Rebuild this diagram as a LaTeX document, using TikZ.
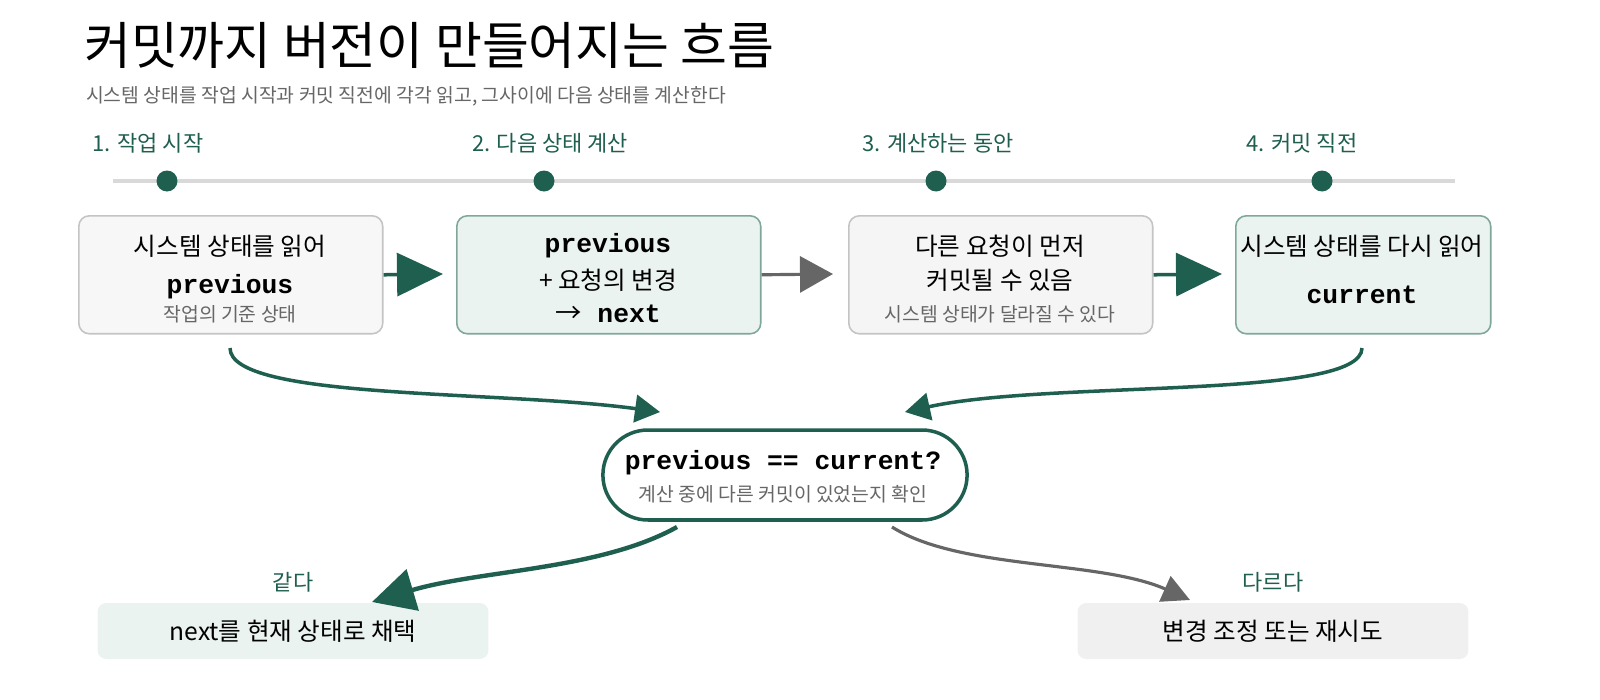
\documentclass[tikz,border=0pt]{standalone}
\usepackage{fontspec}
\setmainfont{Noto Sans CJK KR}
\setmonofont{Liberation Mono}
\usetikzlibrary{arrows.meta,shapes.misc}
\definecolor{gr}{HTML}{1F5F4F}
\definecolor{gbox}{HTML}{EBF3F0}
\definecolor{gstroke}{HTML}{7FA89A}
\definecolor{lbox}{HTML}{F5F5F5}
\definecolor{lstroke}{HTML}{C4C4C4}
\definecolor{dg}{HTML}{666666}
\begin{document}
\begin{tikzpicture}[x=0.02cm,y=-0.02cm,
  box/.style={draw,rounded corners=6pt,line width=0.9pt,minimum width=6.08cm,minimum height=2.36cm,anchor=north west,align=center,font=\fontsize{14pt}{19pt}\selectfont},
  steplbl/.style={text=gr,font=\fontsize{12.5pt}{14pt}\selectfont},
  dot/.style={circle,fill=gr,minimum size=0.42cm,inner sep=0},
  big/.style={-{Triangle[length=0.92cm,width=0.86cm]},line width=2pt},
  cur/.style={-{Triangle[length=0.5cm,width=0.55cm]},line width=2pt},
  small/.style={font=\fontsize{11pt}{13pt}\selectfont,text=dg},
  mono/.style={font=\ttfamily\bfseries\fontsize{15pt}{18pt}\selectfont}]
\useasboundingbox (0,0) rectangle (1600,700);
\node[anchor=west,font=\fontsize{29pt}{34pt}\selectfont] (title) at (78,45) {커밋까지 버전이 만들어지는 흐름};
\node[anchor=west,font=\fontsize{11pt}{13pt}\selectfont,text=dg] (sub) at (80,96) {시스템 상태를 작업 시작과 커밋 직전에 각각 읽고, 그사이에 다음 상태를 계산한다};
\node[steplbl] (s1) at (148,143) {1. 작업 시작};
\node[steplbl] (s2) at (550,143) {2. 다음 상태 계산};
\node[steplbl] (s3) at (938,143) {3. 계산하는 동안};
\node[steplbl] (s4) at (1302,143) {4. 커밋 직전};
\coordinate (la) at (113,181); \coordinate (lb) at (1455,181);
\draw[line width=2.5pt,black!15] (la) -- (lb);
\node[dot] (d1) at (167,181) {};
\node[dot] (d2) at (544,181) {};
\node[dot] (d3) at (936,181) {};
\node[dot] (d4) at (1322,181) {};
\node[box,draw=lstroke,fill=black!3] (b1) at (78,215) {};
\node at (230,246) {\fontsize{14pt}{16pt}\selectfont 시스템 상태를 읽어};
\node[mono] at (230,287) {previous};
\node[small] at (230,314) {작업의 기준 상태};
\node[box,draw=gstroke,fill=gbox] (b2) at (456,215) {};
\node[mono] at (608,246) {previous};
\node[font=\fontsize{14pt}{16pt}\selectfont] at (608,280) {+ 요청의 변경};
\node[mono] at (608,314) {{\rmfamily\mdseries →} next};
\node[box,draw=lstroke,fill=lbox] (b3) at (848,215) {};
\node[font=\fontsize{14pt}{16pt}\selectfont] at (1000,246) {다른 요청이 먼저};
\node[font=\fontsize{14pt}{16pt}\selectfont] at (1000,280) {커밋될 수 있음};
\node[small] at (1000,314) {시스템 상태가 달라질 수 있다};
\node[box,draw=gstroke,fill=gbox,minimum width=5.1cm] (b4) at (1235,215) {};
\node[font=\fontsize{14pt}{16pt}\selectfont] at (1362,246) {시스템 상태를 다시 읽어};
\node[mono] at (1362,295) {current};
\draw[big,gr] (b1.east) -- (443,274);
\draw[big,dg,line width=1.8pt,-{Triangle[length=0.66cm,width=0.72cm]}] (b2.east) -- (833,274);
\draw[big,gr] (b3.east) -- (1222,274);
\node[draw=gr,line width=2pt,fill=white,rounded rectangle,minimum width=7.52cm,minimum height=1.8cm] (dec) at (785,475) {};
\node[mono] at (783,463) {previous == current?};
\node[small] at (783,494) {계산 중에 다른 커밋이 있었는지 확인};
\draw[cur,gr] (230,348) .. controls (230,400) and (500,390) .. (660,412);
\draw[cur,gr] (1362,348) .. controls (1362,400) and (1050,380) .. (905,412);
\node[fill=gbox,rounded corners=5pt,minimum width=7.82cm,minimum height=1.12cm] (ok) at (293,631) {\fontsize{14pt}{16pt}\selectfont next를 현재 상태로 채택};
\node[fill=black!6,rounded corners=5pt,minimum width=7.82cm,minimum height=1.12cm] (ng) at (1273,631) {\fontsize{14pt}{16pt}\selectfont 변경 조정 또는 재시도};
\node[steplbl] (eq) at (293,582) {같다};
\node[steplbl] (ne) at (1273,582) {다르다};
\draw[big,gr,line width=2.5pt,-{Triangle[length=0.85cm,width=0.85cm]}] (677,527) .. controls (600,570) and (480,570) .. (372,602);
\draw[dg,line width=1.8pt,-{Triangle[length=0.55cm,width=0.55cm]}] (892,527) .. controls (960,570) and (1100,560) .. (1190,600);
\end{tikzpicture}
\end{document}
